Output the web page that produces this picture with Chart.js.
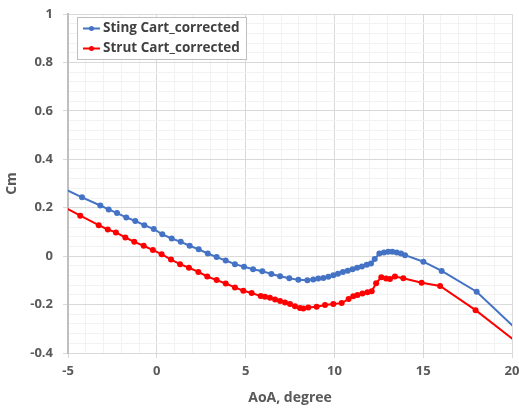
<!DOCTYPE html>
<html>
<head>
<meta charset="utf-8">
<script src="https://cdn.jsdelivr.net/npm/chart.js@4.4.1/dist/chart.umd.min.js"></script>
<style>
  html, body { margin: 0; padding: 0; background: #fff; }
  #wrap { width: 519px; height: 409px; }
</style>
</head>
<body>
<div id="wrap"><canvas id="cmChart" width="519" height="409"></canvas></div>
<script>
// values (first/last points sit just outside the axis range)
const stingAoA = [-5.25, -4.21, -3.18, -2.71, -2.24, -1.72, -1.21, -0.70, -0.17, 0.31, 0.84, 1.35, 1.85, 2.36, 2.87,
    3.37, 3.88, 4.40, 4.91, 5.42, 5.94, 6.45, 6.94, 7.46, 7.97, 8.48, 8.81, 9.09, 9.38, 9.66, 9.94, 10.20, 10.48,
    10.75, 11.02, 11.28, 11.55, 11.82, 12.06, 12.27, 12.53, 12.79, 13.03, 13.26, 13.51, 13.75, 13.98, 15.01, 16.04,
    18.01, 20.5];
const stingCm = [0.279, 0.243, 0.209, 0.193, 0.178, 0.160, 0.145, 0.128, 0.112, 0.090, 0.073, 0.059, 0.043, 0.028, 0.011,
    -0.004, -0.018, -0.033, -0.044, -0.054, -0.062, -0.074, -0.083, -0.091, -0.098, -0.100, -0.096, -0.092, -0.090, -0.085, -0.079, -0.073, -0.066,
    -0.060, -0.054, -0.048, -0.043, -0.036, -0.030, -0.012, 0.011, 0.015, 0.018, 0.018, 0.015, 0.011, 0.004, -0.023, -0.061,
    -0.147, -0.320];

const strutAoA = [-5.25, -4.31, -3.27, -2.76, -2.30, -1.77, -1.27, -0.74, -0.22, 0.27, 0.80, 1.31, 1.81, 2.34, 2.84,
    3.37, 3.88, 4.40, 4.87, 5.34, 5.85, 6.09, 6.37, 6.66, 6.94, 7.22, 7.50, 7.78, 8.06, 8.25, 8.53, 9.00, 9.47,
    9.94, 10.41, 10.80, 11.06, 11.30, 11.58, 11.86, 12.10, 12.35, 12.64, 12.91, 13.13, 13.41, 13.88, 14.91, 15.95,
    17.95, 20.5];
const strutCm = [0.204, 0.167, 0.128, 0.110, 0.098, 0.077, 0.059, 0.043, 0.025, 0.008, -0.014, -0.033, -0.048, -0.065, -0.084,
    -0.099, -0.113, -0.129, -0.143, -0.152, -0.165, -0.168, -0.172, -0.179, -0.185, -0.191, -0.198, -0.207, -0.214, -0.216, -0.212, -0.209, -0.202,
    -0.198, -0.194, -0.177, -0.166, -0.160, -0.154, -0.149, -0.145, -0.112, -0.087, -0.092, -0.094, -0.084, -0.091, -0.110, -0.123,
    -0.223, -0.369];

const seriesNames = ['Sting Cart_corrected', 'Strut Cart_corrected'];
const seriesColors = ['#4472C4', '#FF0000'];

const FONT = '"Open Sans", "Noto Sans", sans-serif';

const toPoints = (xs, ys) => xs.map((x, i) => ({ x: x, y: ys[i] }));

const isMajor = (v, step) => Math.abs(v / step - Math.round(v / step)) < 1e-6;

// legend box drawn inside the plot, top-left
const boxLegend = {
    id: 'boxLegend',
    afterDatasetsDraw(chart) {
        const ctx = chart.ctx;
        const x0 = chart.chartArea.left + 9;
        const y0 = chart.chartArea.top + 3;
        ctx.save();
        ctx.fillStyle = '#ffffff';
        ctx.fillRect(x0, y0, 169, 42);
        ctx.strokeStyle = '#bfbfbf';
        ctx.lineWidth = 1;
        ctx.strokeRect(x0 + 0.5, y0 + 0.5, 169, 42);
        chart.data.datasets.forEach((ds, i) => {
            const y = y0 + 11.5 + i * 20;
            ctx.strokeStyle = ds.borderColor;
            ctx.lineWidth = 2;
            ctx.beginPath();
            ctx.moveTo(x0 + 6, y);
            ctx.lineTo(x0 + 23, y);
            ctx.stroke();
            ctx.fillStyle = ds.borderColor;
            ctx.beginPath();
            ctx.arc(x0 + 14.5, y, 2.5, 0, Math.PI * 2);
            ctx.fill();
            ctx.fillStyle = '#404040';
            ctx.font = 'bold 13.5px ' + FONT;
            ctx.textBaseline = 'middle';
            ctx.textAlign = 'left';
            ctx.fillText(ds.label, x0 + 26, y);
        });
        ctx.restore();
    }
};

const el = document.getElementById('cmChart');

new Chart(el.getContext('2d'), {
    type: 'line',
    data: {
        datasets: [{
            label: seriesNames[0],
            data: toPoints(stingAoA, stingCm),
            borderColor: seriesColors[0],
            backgroundColor: seriesColors[0],
            borderWidth: 2,
            pointRadius: 3,
            pointBorderWidth: 0,
            tension: 0,
        }, {
            label: seriesNames[1],
            data: toPoints(strutAoA, strutCm),
            borderColor: seriesColors[1],
            backgroundColor: seriesColors[1],
            borderWidth: 2,
            pointRadius: 3,
            pointBorderWidth: 0,
            tension: 0,
        }]
    },
    options: {
        responsive: false,
        animation: false,
        layout: { padding: { top: 14, right: 7, left: 0, bottom: 0 } },
        plugins: {
            legend: { display: false },
            tooltip: { enabled: false },
        },
        scales: {
            x: {
                type: 'linear',
                min: -5,
                max: 20,
                afterFit: (scale) => {
                    scale.height = 56;
                    scale.paddingLeft = 0;
                    scale.paddingRight = 0;
                },
                ticks: {
                    stepSize: 1,
                    autoSkip: false,
                    maxRotation: 0,
                    padding: 5,
                    color: '#595959',
                    font: { family: FONT, size: 13, weight: 'bold' },
                    callback: (v) => isMajor(v, 5) ? String(Math.round(v)) : '',
                },
                grid: {
                    color: (c) => isMajor(c.tick.value, 5) ? '#d9d9d9' : '#f2f2f2',
                    tickColor: (c) => isMajor(c.tick.value, 5) ? '#d9d9d9' : 'rgba(0,0,0,0)',
                    tickLength: 5,
                },
                border: { color: '#d9d9d9', width: 1 },
                title: {
                    display: true,
                    text: 'AoA, degree',
                    color: '#595959',
                    font: { family: FONT, size: 14, weight: 'bold' },
                    padding: { top: 4, bottom: 3 },
                },
            },
            y: {
                min: -0.4,
                max: 1,
                afterFit: (scale) => {
                    scale.width = 68;
                    scale.paddingTop = 0;
                    scale.paddingBottom = 0;
                },
                ticks: {
                    stepSize: 0.04,
                    autoSkip: false,
                    padding: 10,
                    color: '#595959',
                    font: { family: FONT, size: 13, weight: 'bold' },
                    callback: (v) => isMajor(v, 0.2) ? String(Math.round(v * 10) / 10) : '',
                },
                grid: {
                    color: (c) => isMajor(c.tick.value, 0.2) ? '#d9d9d9' : '#f2f2f2',
                    tickColor: (c) => isMajor(c.tick.value, 0.2) ? '#d9d9d9' : 'rgba(0,0,0,0)',
                    tickLength: 5,
                },
                border: { color: '#bfbfbf', width: 2 },
                title: {
                    display: true,
                    text: 'Cm',
                    color: '#595959',
                    font: { family: FONT, size: 14, weight: 'bold' },
                    padding: { top: 4, bottom: 4 },
                },
            },
        },
    },
    plugins: [boxLegend],
});
</script>
</body>
</html>
